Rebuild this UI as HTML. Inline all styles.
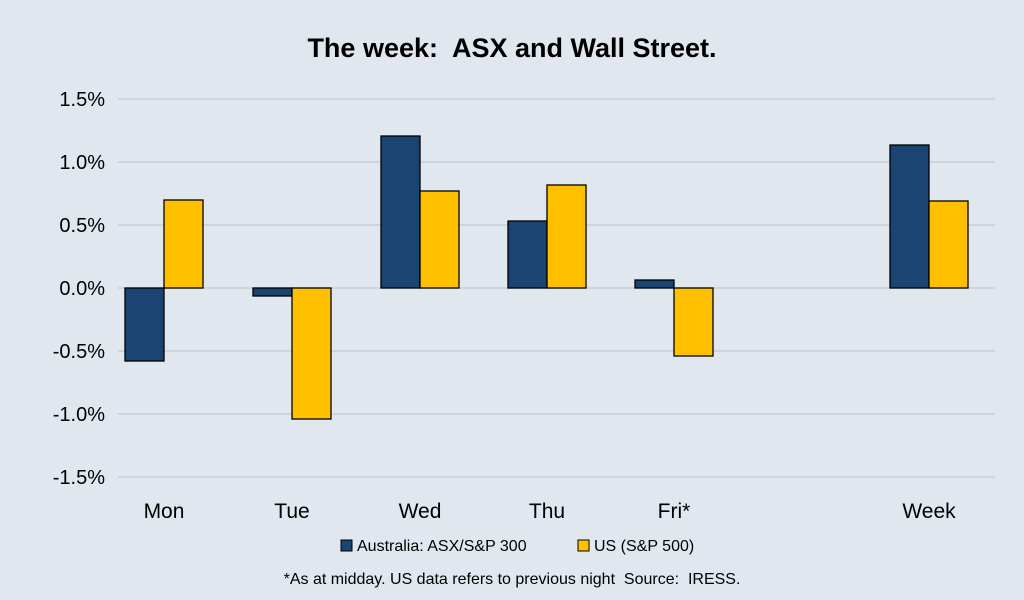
<!DOCTYPE html>
<html><head><meta charset="utf-8"><style>
html,body{margin:0;padding:0;background:#e1e7ef;}
svg{display:block;font-family:"Liberation Sans",sans-serif;}
text{white-space:pre;}
</style></head><body>
<svg width="1024" height="600" viewBox="0 0 1024 600">
<rect width="1024" height="600" fill="#e1e7ef"/>
<text x="512" y="57" text-anchor="middle" font-size="27" font-weight="bold" fill="#000">The week:  ASX and Wall Street.</text>
<g stroke="#c9cdd2" stroke-width="1.5">
<line x1="118" x2="995" y1="99" y2="99"/>
<line x1="118" x2="995" y1="162" y2="162"/>
<line x1="118" x2="995" y1="225" y2="225"/>
<line x1="118" x2="995" y1="288" y2="288"/>
<line x1="118" x2="995" y1="351" y2="351"/>
<line x1="118" x2="995" y1="414" y2="414"/>
<line x1="118" x2="995" y1="477" y2="477"/>
</g>
<g font-size="20" fill="#000" text-anchor="end">
<text x="105" y="106">1.5%</text>
<text x="105" y="169">1.0%</text>
<text x="105" y="232">0.5%</text>
<text x="105" y="295">0.0%</text>
<text x="105" y="358">-0.5%</text>
<text x="105" y="421">-1.0%</text>
<text x="105" y="484">-1.5%</text>
</g>
<g stroke="#000" stroke-width="1.3">
<rect x="125" y="288" width="39" height="73" fill="#1a4472"/>
<rect x="164" y="200" width="39" height="88" fill="#ffc000"/>
<rect x="253" y="288" width="39" height="8" fill="#1a4472"/>
<rect x="292" y="288" width="39" height="131" fill="#ffc000"/>
<rect x="381" y="136" width="39" height="152" fill="#1a4472"/>
<rect x="420" y="191" width="39" height="97" fill="#ffc000"/>
<rect x="508" y="221" width="39" height="67" fill="#1a4472"/>
<rect x="547" y="185" width="39" height="103" fill="#ffc000"/>
<rect x="635" y="280" width="39" height="8" fill="#1a4472"/>
<rect x="674" y="288" width="39" height="68" fill="#ffc000"/>
<rect x="890" y="145" width="39" height="143" fill="#1a4472"/>
<rect x="929" y="201" width="39" height="87" fill="#ffc000"/>
</g>
<g font-size="21" fill="#000" text-anchor="middle">
<text x="164" y="518">Mon</text>
<text x="292" y="518">Tue</text>
<text x="420" y="518">Wed</text>
<text x="547" y="518">Thu</text>
<text x="674" y="518">Fri*</text>
<text x="929" y="518">Week</text>
</g>
<rect x="341" y="540" width="11" height="11" fill="#1a4472" stroke="#000"/>
<text x="357" y="551" font-size="16">Australia: ASX/S&amp;P 300</text>
<rect x="578" y="540" width="11" height="11" fill="#ffc000" stroke="#000"/>
<text x="594" y="551" font-size="16">US (S&amp;P 500)</text>
<text x="512" y="584" font-size="16" text-anchor="middle">*As at midday. US data refers to previous night  Source:  IRESS.</text>
</svg>
</body></html>
